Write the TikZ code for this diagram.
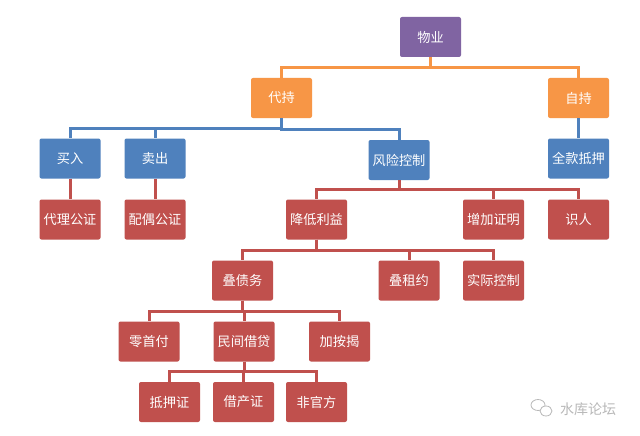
\documentclass[tikz,border=0pt]{standalone}
\usepackage{fontspec}
\setmainfont{Noto Sans CJK SC}
\definecolor{cpurple}{HTML}{8064A2}
\definecolor{corange}{HTML}{F79646}
\definecolor{cblue}{HTML}{4F81BD}
\definecolor{cred}{HTML}{C0504D}
\definecolor{cgray}{HTML}{B8B8B8}
\tikzset{
  box/.style={rectangle, rounded corners=2pt, minimum width=61pt, minimum height=40pt,
    inner sep=0pt, text=white, font=\fontsize{13.2}{15}\selectfont},
  pbox/.style={box, fill=cpurple},
  obox/.style={box, fill=corange},
  bbox/.style={box, fill=cblue},
  rbox/.style={box, fill=cred},
  conn/.style={draw=#1, line width=3pt},
}
\newcommand{\linkto}[3]{\draw[conn=#1] (#2.south) |- ([yshift=10pt]#3.north) -- (#3.north);}
\begin{document}
\begin{tikzpicture}[x=1pt,y=-1pt]
\useasboundingbox[fill=white] (0,0) rectangle (640,436);
% nodes
\node[pbox] (wuye) at (430.5,37) {物业};
\node[obox] (daichi) at (281.5,98) {代持};
\node[obox] (zichi) at (578.5,98) {自持};
\node[bbox] (mairu) at (70,158.5) {买入};
\node[bbox] (maichu) at (155,158.5) {卖出};
\node[bbox] (fengxian) at (399,160) {风险控制};
\node[bbox] (quankuan) at (578.5,158.5) {全款抵押};
\node[rbox] (daili) at (70,219.5) {代理公证};
\node[rbox] (peiou) at (155,219.5) {配偶公证};
\node[rbox] (jiangdi) at (316.5,219.5) {降低利益};
\node[rbox] (zengjia) at (493.5,219.5) {增加证明};
\node[rbox] (shiren) at (578.5,219.5) {识人};
\node[rbox] (diezhai) at (242.5,280.5) {叠债务};
\node[rbox] (diezu) at (409,280.5) {叠租约};
\node[rbox] (shiji) at (493.5,280.5) {实际控制};
\node[rbox] (ling) at (149,341.5) {零首付};
\node[rbox] (minjian) at (244,341.5) {民间借贷};
\node[rbox] (jiaan) at (339.5,341.5) {加按揭};
\node[rbox] (diya) at (169.5,402) {抵押证};
\node[rbox] (jiechan) at (243.5,402) {借产证};
\node[rbox] (feiguan) at (316.5,402) {非官方};
% connectors
\linkto{corange}{wuye}{daichi}
\linkto{corange}{wuye}{zichi}
\linkto{cblue}{daichi}{mairu}
\linkto{cblue}{daichi}{maichu}
\linkto{cblue}{daichi}{fengxian}
\linkto{cblue}{zichi}{quankuan}
\linkto{cred}{mairu}{daili}
\linkto{cred}{maichu}{peiou}
\linkto{cred}{fengxian}{jiangdi}
\linkto{cred}{fengxian}{zengjia}
\linkto{cred}{fengxian}{shiren}
\linkto{cred}{jiangdi}{diezhai}
\linkto{cred}{jiangdi}{diezu}
\linkto{cred}{jiangdi}{shiji}
\linkto{cred}{diezhai}{ling}
\linkto{cred}{diezhai}{minjian}
\linkto{cred}{diezhai}{jiaan}
\linkto{cred}{minjian}{diya}
\linkto{cred}{minjian}{jiechan}
\linkto{cred}{minjian}{feiguan}
% watermark
\draw[cgray, line width=0.8pt] (538,405) ellipse (7pt and 5.5pt);
\draw[cgray, line width=0.8pt, fill=white] (546,411) ellipse (6pt and 5pt);
\node[text=cgray, font=\fontsize{14}{15}\selectfont, inner sep=0pt] (wm) at (588,409) {水库论坛};
\end{tikzpicture}
\end{document}
